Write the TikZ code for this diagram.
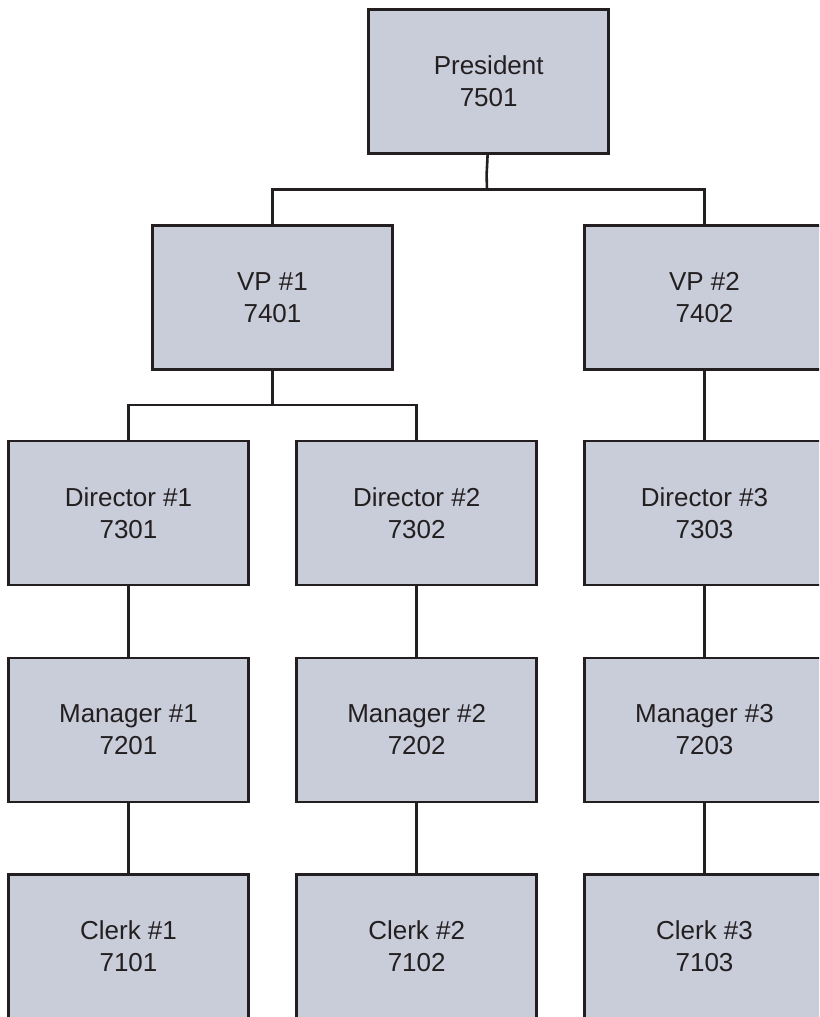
\documentclass[tikz,border=0pt]{standalone}
\usepackage{fontspec}
\setmainfont{Liberation Sans}
\definecolor{boxfill}{HTML}{C9CDDA}
\definecolor{ink}{HTML}{231F20}
\begin{document}
\begin{tikzpicture}[x=1pt,y=-1pt,
  orgbox/.style={draw=ink, fill=boxfill, line width=2.6pt, minimum width=240pt,
    minimum height=144pt, inner sep=0pt, align=center, text=ink,
    font=\fontsize{26pt}{31.6pt}\selectfont},
  link/.style={draw=ink, line width=2.6pt}]
\useasboundingbox (0,0) rectangle (819,1017);
\clip (0,0) rectangle (819,1017);
\node[orgbox] (pres) at (488.7,81.5) {President\\7501};
\node[orgbox] (vp1) at (272.5,297.6) {VP \#1\\7401};
\node[orgbox] (vp2) at (704.5,297.6) {VP \#2\\7402};
\node[orgbox] (d1) at (128.5,513) {Director \#1\\7301};
\node[orgbox] (d2) at (416.7,513) {Director \#2\\7302};
\node[orgbox] (d3) at (704.5,513) {Director \#3\\7303};
\node[orgbox] (m1) at (128.5,729.8) {Manager \#1\\7201};
\node[orgbox] (m2) at (416.7,729.8) {Manager \#2\\7202};
\node[orgbox] (m3) at (704.5,729.8) {Manager \#3\\7203};
\node[orgbox] (c1) at (128.5,946.3) {Clerk \#1\\7101};
\node[orgbox] (c2) at (416.7,946.3) {Clerk \#2\\7102};
\node[orgbox] (c3) at (704.5,946.3) {Clerk \#3\\7103};
\coordinate (jp) at (487,189.7);
\coordinate (jv) at (272.5,405);
\draw[link] (pres.south -| 487.6,0) .. controls (486.6,165) .. (486.6,175) -- (jp);
\draw[link] (vp1.north) |- (jp) -| (vp2.north);
\draw[link] (vp1.south) -- (jv);
\draw[link] (d1.north) |- (jv) -| (d2.north);
\draw[link] (vp2.south) -- (d3.north);
\draw[link] (d1.south) -- (m1.north);
\draw[link] (d2.south) -- (m2.north);
\draw[link] (d3.south) -- (m3.north);
\draw[link] (m1.south) -- (c1.north);
\draw[link] (m2.south) -- (c2.north);
\draw[link] (m3.south) -- (c3.north);
\end{tikzpicture}
\end{document}
